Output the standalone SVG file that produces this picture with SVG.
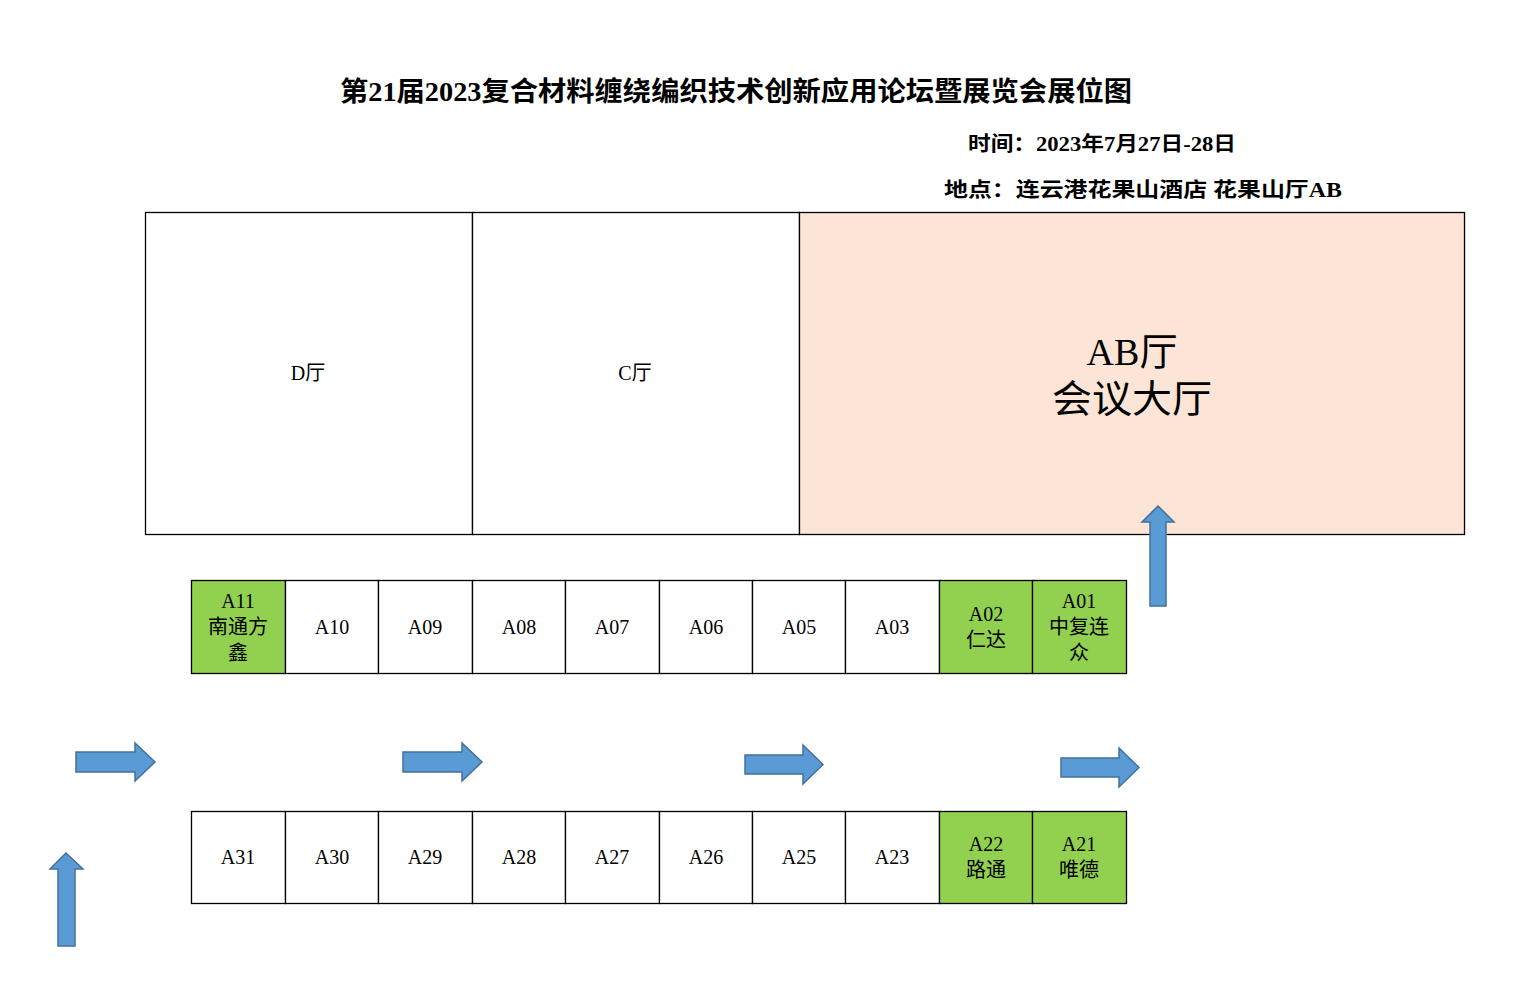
<svg xmlns="http://www.w3.org/2000/svg" width="1534" height="1003" viewBox="0 0 1534 1003">
<style>
text{font-family:"Liberation Serif","Noto Sans CJK SC",serif;fill:#000;text-anchor:middle}
.b{stroke:#000;stroke-width:1.3}
.w{fill:#fff}.g{fill:#92D050}
.t{font-size:20px}
.ar{fill:#5B9BD5;stroke:#41719C;stroke-width:1.5}
</style>
<rect width="1534" height="1003" fill="#fff"/>
<text x="736" y="101" font-size="27" font-weight="bold" textLength="792" lengthAdjust="spacingAndGlyphs">第21届2023复合材料缠绕编织技术创新应用论坛暨展览会展位图</text>
<text x="1102" y="151" font-size="20" font-weight="bold" textLength="268" lengthAdjust="spacingAndGlyphs">时间：2023年7月27日-28日</text>
<text x="1143" y="197" font-size="20" font-weight="bold" textLength="398" lengthAdjust="spacingAndGlyphs">地点：连云港花果山酒店  花果山厅AB</text>
<g id="hallD"><rect x="145.5" y="212.5" width="327" height="322" class="b w"/><text x="308" y="380" class="t">D厅</text></g>
<g id="hallC"><rect x="472.5" y="212.5" width="327" height="322" class="b w"/><text x="635" y="380" class="t">C厅</text></g>
<g id="hallAB"><rect x="799.5" y="212.5" width="665" height="322" class="b" fill="#FCE4D6"/><text x="1132" y="365" font-size="38">AB厅</text><text x="1132" y="412" font-size="38" textLength="160" lengthAdjust="spacingAndGlyphs">会议大厅</text></g>
<g id="A11"><rect x="191.5" y="580.5" width="94" height="93" class="b g"/><text x="238" y="608" class="t">A11</text><text x="238" y="634" class="t">南通方</text><text x="238" y="660" class="t">鑫</text></g>
<g id="A10"><rect x="285.5" y="580.5" width="93" height="93" class="b w"/><text x="332" y="634" class="t">A10</text></g>
<g id="A09"><rect x="378.5" y="580.5" width="94" height="93" class="b w"/><text x="425" y="634" class="t">A09</text></g>
<g id="A08"><rect x="472.5" y="580.5" width="93" height="93" class="b w"/><text x="519" y="634" class="t">A08</text></g>
<g id="A07"><rect x="565.5" y="580.5" width="94" height="93" class="b w"/><text x="612" y="634" class="t">A07</text></g>
<g id="A06"><rect x="659.5" y="580.5" width="93" height="93" class="b w"/><text x="706" y="634" class="t">A06</text></g>
<g id="A05"><rect x="752.5" y="580.5" width="93" height="93" class="b w"/><text x="799" y="634" class="t">A05</text></g>
<g id="A03"><rect x="845.5" y="580.5" width="94" height="93" class="b w"/><text x="892" y="634" class="t">A03</text></g>
<g id="A02"><rect x="939.5" y="580.5" width="93" height="93" class="b g"/><text x="986" y="621" class="t">A02</text><text x="986" y="647" class="t">仁达</text></g>
<g id="A01"><rect x="1032.5" y="580.5" width="94" height="93" class="b g"/><text x="1079" y="608" class="t">A01</text><text x="1079" y="634" class="t">中复连</text><text x="1079" y="660" class="t">众</text></g>
<g id="A31"><rect x="191.5" y="811.5" width="94" height="92" class="b w"/><text x="238" y="864" class="t">A31</text></g>
<g id="A30"><rect x="285.5" y="811.5" width="93" height="92" class="b w"/><text x="332" y="864" class="t">A30</text></g>
<g id="A29"><rect x="378.5" y="811.5" width="94" height="92" class="b w"/><text x="425" y="864" class="t">A29</text></g>
<g id="A28"><rect x="472.5" y="811.5" width="93" height="92" class="b w"/><text x="519" y="864" class="t">A28</text></g>
<g id="A27"><rect x="565.5" y="811.5" width="94" height="92" class="b w"/><text x="612" y="864" class="t">A27</text></g>
<g id="A26"><rect x="659.5" y="811.5" width="93" height="92" class="b w"/><text x="706" y="864" class="t">A26</text></g>
<g id="A25"><rect x="752.5" y="811.5" width="93" height="92" class="b w"/><text x="799" y="864" class="t">A25</text></g>
<g id="A23"><rect x="845.5" y="811.5" width="94" height="92" class="b w"/><text x="892" y="864" class="t">A23</text></g>
<g id="A22"><rect x="939.5" y="811.5" width="93" height="92" class="b g"/><text x="986" y="851" class="t">A22</text><text x="986" y="877" class="t">路通</text></g>
<g id="A21"><rect x="1032.5" y="811.5" width="94" height="92" class="b g"/><text x="1079" y="851" class="t">A21</text><text x="1079" y="877" class="t">唯德</text></g>
<g id="connectors">
<polygon class="ar" points="76,752 135,752 135,743 155,762 135,781 135,772 76,772"/>
<polygon class="ar" points="403,752 462,752 462,743 482,762 462,781 462,772 403,772"/>
<polygon class="ar" points="745,755 803,755 803,745 823,764.5 803,784 803,774 745,774"/>
<polygon class="ar" points="1061,758 1119,758 1119,748 1139,767.5 1119,787 1119,777 1061,777"/>
<polygon class="ar" points="1150,606 1150,522 1142,522 1158,506 1174,522 1166,522 1166,606"/>
<polygon class="ar" points="58,946 58,869 50,869 66,853 83,869 75,869 75,946"/>
</g>
</svg>
